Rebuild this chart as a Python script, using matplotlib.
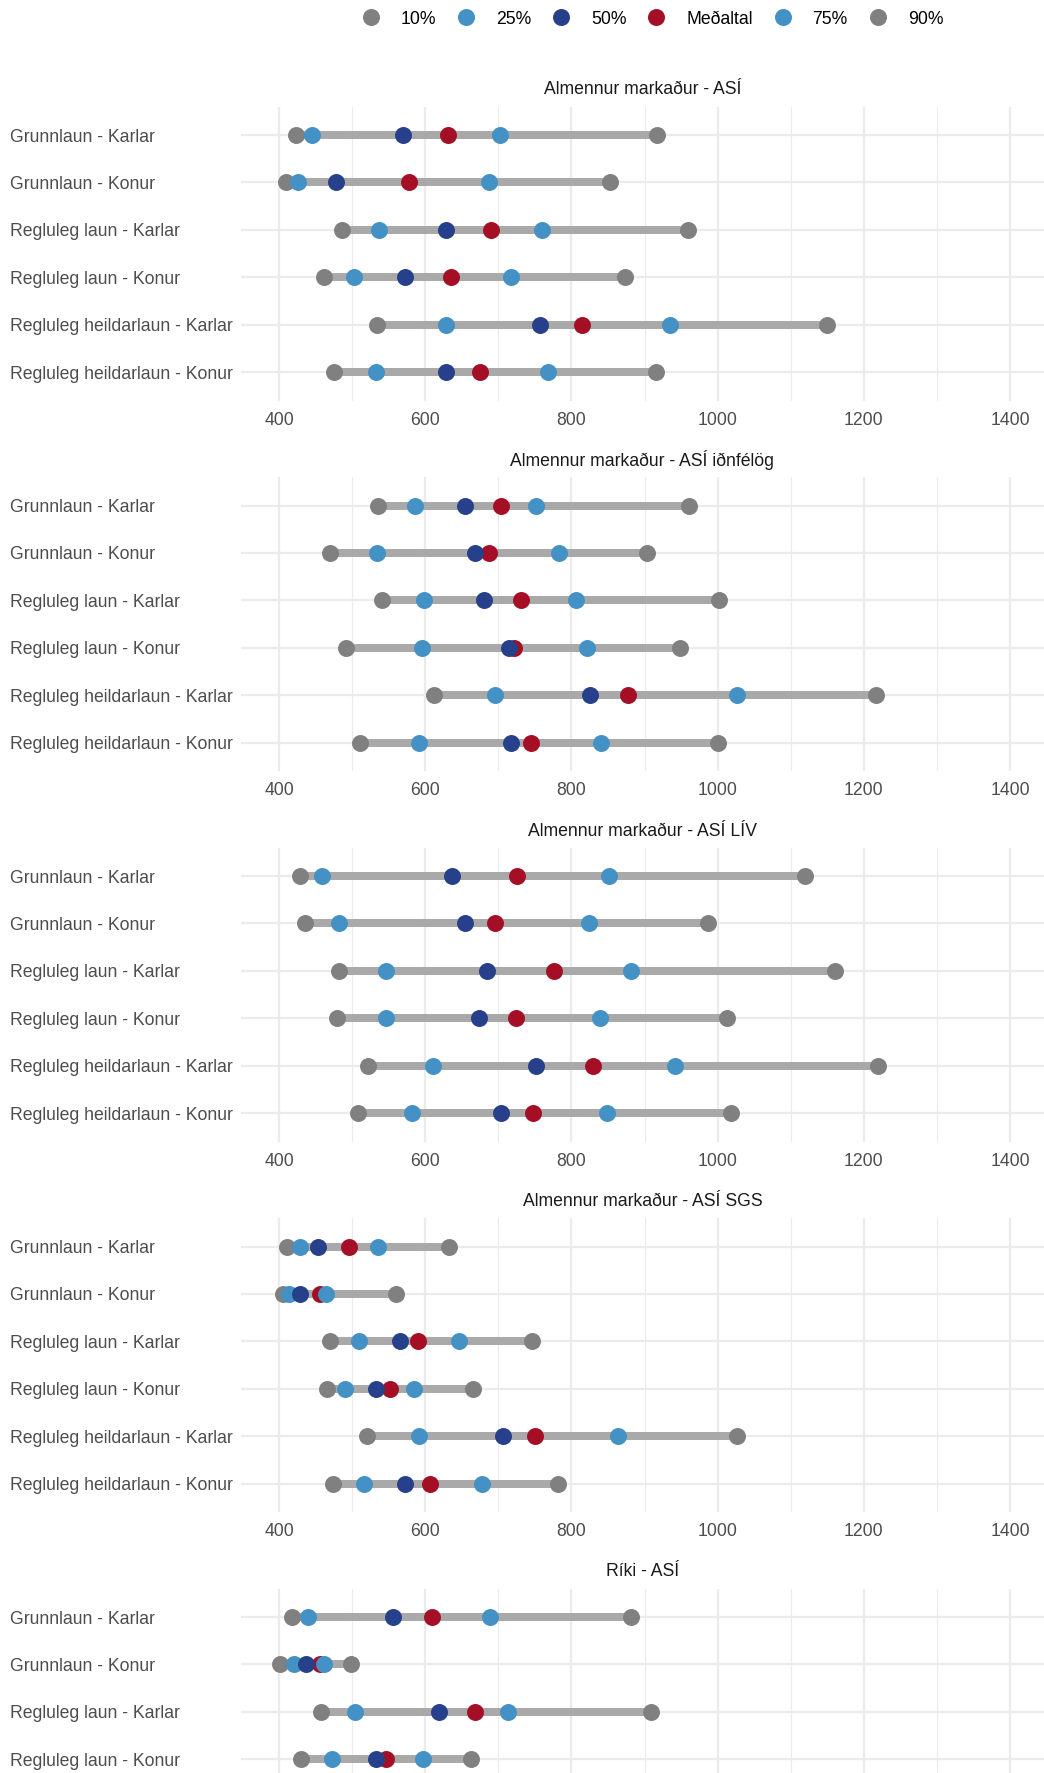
import numpy as np
import matplotlib
matplotlib.use('Agg')
import matplotlib.pyplot as plt
from matplotlib.lines import Line2D
from matplotlib.ticker import MultipleLocator

plt.rcParams['font.family'] = ['Liberation Sans', 'DejaVu Sans']

# facets (top to bottom) and the rows inside each facet
panels = ['Almennur markaður - ASÍ',
          'Almennur markaður - ASÍ iðnfélög',
          'Almennur markaður - ASÍ LÍV',
          'Almennur markaður - ASÍ SGS',
          'Ríki - ASÍ']
rows = ['Grunnlaun - Karlar', 'Grunnlaun - Konur',
        'Regluleg laun - Karlar', 'Regluleg laun - Konur',
        'Regluleg heildarlaun - Karlar', 'Regluleg heildarlaun - Konur']

nan = np.nan
# one list per facet, values in row order (last facet is cut off after row 4)
p10 = [[423, 410, 486, 462, 534, 475],
       [535, 470, 541, 491, 612, 511],
       [429, 436, 482, 480, 522, 508],
       [411, 406, 470, 466, 520, 474],
       [418, 402, 457, 430, nan, nan]]
p25 = [[445, 426, 537, 503, 628, 532],
       [586, 534, 598, 596, 696, 592],
       [459, 482, 547, 547, 610, 582],
       [429, 413, 509, 490, 592, 516],
       [440, 420, 504, 473, nan, nan]]
p50 = [[569, 478, 628, 573, 757, 629],
       [654, 668, 680, 714, 826, 717],
       [637, 654, 684, 674, 751, 703],
       [454, 429, 566, 532, 706, 572],
       [556, 437, 619, 533, nan, nan]]
mean = [[631, 578, 690, 635, 814, 675],
        [703, 687, 731, 722, 877, 745],
        [726, 696, 776, 724, 829, 747],
        [496, 456, 590, 552, 750, 606],
        [609, 456, 668, 547, nan, nan]]
p75 = [[702, 687, 760, 718, 935, 768],
       [751, 783, 806, 821, 1026, 840],
       [852, 824, 881, 839, 942, 849],
       [535, 464, 646, 584, 864, 678],
       [688, 462, 713, 597, nan, nan]]
p90 = [[917, 853, 960, 873, 1150, 916],
       [961, 903, 1002, 949, 1216, 1000],
       [1120, 987, 1161, 1013, 1219, 1018],
       [633, 560, 746, 666, 1027, 781],
       [881, 499, 909, 662, nan, nan]]

GRAY = '#808080'
LBLUE = '#4391C5'
DBLUE = '#27408B'
RED = '#A50F25'
SEG = '#A9A9A9'
GRID = '#EBEBEB'

W, H, DPI = 1044, 1773, 144
fig = plt.figure(figsize=(W / DPI, H / DPI), dpi=DPI)

left_px, top0_px, height_px, step_px = 241, 106.6, 294, 370.5
y = np.arange(len(rows))

for k, title in enumerate(panels):
    top = top0_px + k * step_px
    ax = fig.add_axes([left_px / W, 1 - (top + height_px) / H,
                       1 - left_px / W, height_px / H])
    lo = np.array(p10[k], dtype=float)
    hi = np.array(p90[k], dtype=float)
    ok = ~np.isnan(lo)
    ax.hlines(y[ok], lo[ok], hi[ok], color=SEG, lw=4, zorder=2)
    for vals, col in [(p10, GRAY), (p90, GRAY), (mean, RED),
                      (p25, LBLUE), (p50, DBLUE), (p75, LBLUE)]:
        ax.scatter(vals[k], y, s=72, color=col, lw=0, zorder=3)

    ax.set_xlim(348, 1446.5)
    ax.set_ylim(len(rows) - 0.4, -0.6)
    ax.set_yticks(y)
    ax.set_yticklabels(rows)
    ax.xaxis.set_major_locator(MultipleLocator(200))
    ax.xaxis.set_minor_locator(MultipleLocator(100))
    ax.grid(which='major', color=GRID, lw=1.1, zorder=0)
    ax.grid(which='minor', axis='x', color=GRID, lw=0.55, zorder=0)
    ax.set_axisbelow(True)
    for s in ax.spines.values():
        s.set_visible(False)
    ax.tick_params(which='both', length=0, labelsize=8.8, labelcolor='#4D4D4D')
    ax.tick_params(axis='x', pad=5.5)
    ax.tick_params(axis='y', pad=115.5)
    for lbl, good in zip(ax.get_yticklabels(), ok):
        lbl.set_horizontalalignment('left')
        # rows of the last facet that fall below the picture edge
        lbl.set_visible(bool(good))
    if k == len(panels) - 1:
        ax.tick_params(axis='x', labelbottom=False)
    ax.text(0.5, 1 + 16.6 / height_px, title, transform=ax.transAxes,
            ha='center', va='center', fontsize=8.8, color='#1A1A1A')

labels = ['10%', '25%', '50%', 'Meðaltal', '75%', '90%']
colors = [GRAY, LBLUE, DBLUE, RED, LBLUE, GRAY]
handles = [Line2D([], [], ls='none', marker='o', ms=8.5, mec='none', mfc=c)
           for c in colors]
fig.legend(handles, labels, loc='center', bbox_to_anchor=(0.625, 1 - 19 / H),
           ncol=6, frameon=False, handlelength=1, handletextpad=1.2,
           columnspacing=1.2, fontsize=8.8)

fig.savefig('out.png', dpi=DPI)
